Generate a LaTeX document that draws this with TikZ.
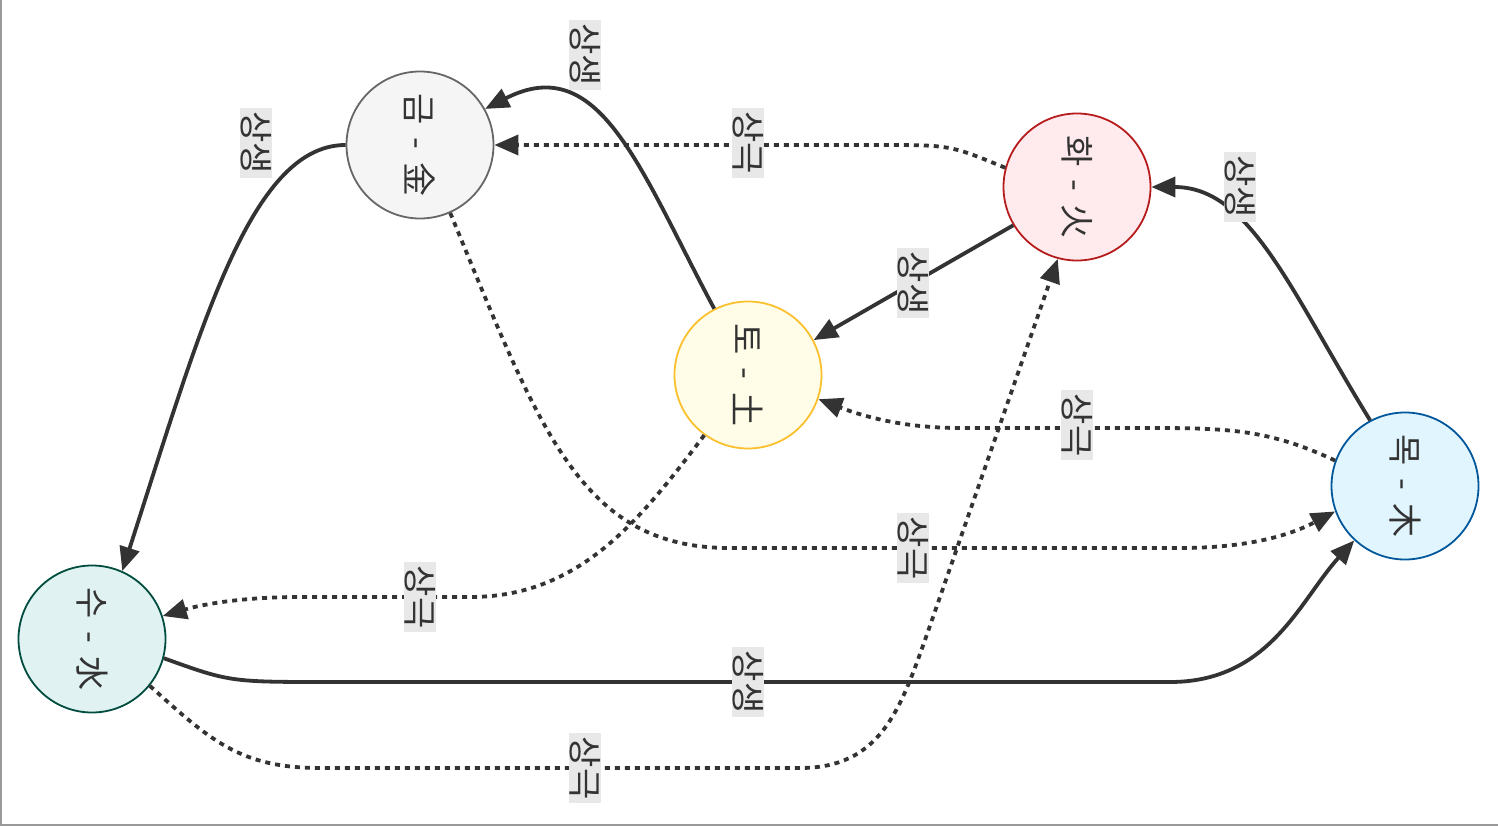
\documentclass[tikz,border=0pt]{standalone}
\usepackage{fontspec}
\setmainfont{Noto Sans CJK KR}
\usetikzlibrary{arrows.meta}
\definecolor{txt}{HTML}{333333}
\definecolor{lblbg}{HTML}{E8E8E8}
\definecolor{kumf}{HTML}{F5F5F5}\definecolor{kumd}{HTML}{666666}
\definecolor{hwaf}{HTML}{FFEBEE}\definecolor{hwad}{HTML}{B71C1C}
\definecolor{tof}{HTML}{FFFDE7}\definecolor{tod}{HTML}{FBC02D}
\definecolor{mokf}{HTML}{E1F5FE}\definecolor{mokd}{HTML}{01579B}
\definecolor{suf}{HTML}{E0F2F1}\definecolor{sud}{HTML}{004D40}
\tikzset{
  elem/.style={circle, minimum size=147pt, inner sep=0pt, line width=1.8pt, text=txt,
    font=\fontsize{34}{40}\selectfont},
  lbl/.style={rotate=-90, fill=lblbg, text=txt, inner xsep=4pt, inner ysep=1pt,
    font=\fontsize{34}{40}\selectfont},
  gen/.style={draw=txt, line width=3.8pt, -{Triangle[length=24pt,width=20pt]}},
  ctl/.style={draw=txt, line width=3.8pt, dash pattern=on 5pt off 5pt, -{Triangle[length=24pt,width=20pt]}}
}
\newcommand{\rt}[2]{\rotatebox[origin=c]{-90}{#1\hspace{5pt} - \hspace{5pt}#2}}
\begin{document}
\begin{tikzpicture}[x=1pt,y=-1pt]
\useasboundingbox (0,0) rectangle (1498,826);
\fill[white] (0,0) rectangle (1498,826);
\draw[gray!80, line width=2pt] (1,0) -- (1,825) -- (1498,825);

\node[elem, fill=kumf, draw=kumd] (kum) at (420,145) {\rt{금}{金}};
\node[elem, fill=hwaf, draw=hwad] (hwa) at (1077,187) {\rt{화}{火}};
\node[elem, fill=tof, draw=tod] (to) at (748,375) {\rt{토}{土}};
\node[elem, fill=mokf, draw=mokd] (mok) at (1405,486) {\rt{목}{木}};
\node[elem, fill=suf, draw=sud] (su) at (92,639) {\rt{수}{水}};

% generating (solid)
\draw[gen] (mok.118) .. controls (1290,290) and (1250,187) .. (hwa.0);
\draw[gen] (hwa.211) -- (to.28);
\draw[gen] (to.117) .. controls (640,170) and (600,50) .. (kum.29);
\draw[gen] (kum.180) .. controls (250,145) and (200,330) .. (su.66);
\draw[gen] (su.345) .. controls (230,682) .. (330,682) -- (1170,682) .. controls (1270,682) and (1300,600) .. (mok.227);

% controlling (dashed)
\draw[ctl] (hwa.165) .. controls (950,145) .. (880,145) -- (kum.0);
\draw[ctl] (mok.160) .. controls (1270,430) and (1230,428) .. (1150,428) -- (960,428) .. controls (900,428) and (860,415) .. (to.-19);
\draw[ctl] (kum.-66) .. controls (540,430) and (580,548) .. (730,548) -- (1180,548) .. controls (1260,548) and (1300,530) .. (mok.200);
\draw[ctl] (to.234) .. controls (640,520) and (580,597) .. (470,597) -- (300,597) .. controls (240,597) and (200,605) .. (su.18);
\draw[ctl] (su.-39) .. controls (210,740) and (240,768) .. (320,768) -- (800,768) .. controls (880,768) and (900,710) .. (925,640) -- (hwa.255);

% labels
\node[lbl] (l1) at (1240,187) {상생};
\node[lbl] (l2) at (913,283) {상생};
\node[lbl] (l3) at (585,55) {상생};
\node[lbl] (l4) at (256,143) {상생};
\node[lbl] (l5) at (748,682) {상생};
\node[lbl] (l6) at (748,143) {상극};
\node[lbl] (l7) at (1077,425) {상극};
\node[lbl] (l8) at (913,548) {상극};
\node[lbl] (l9) at (420,597) {상극};
\node[lbl] (l10) at (585,768) {상극};
\end{tikzpicture}
\end{document}
